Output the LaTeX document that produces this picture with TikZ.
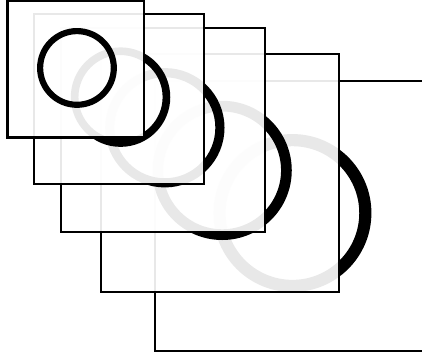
\documentclass[tikz,border=0pt]{standalone}
\begin{document}
\begin{tikzpicture}[x=1pt,y=-1pt,
  frame/.style={line width=2.5pt,draw=black},
  veil/.style={fill=white,fill opacity=0.91},
  ring/.style={draw=black}]
\useasboundingbox (0,0) rectangle (422,356);
\clip (0,0) rectangle (422,356);
\fill[white] (0,0) rectangle (422,356);
\foreach \x/\y/\s in {155/81/270, 101/54/238, 61/28/204, 34/14/170, 7.5/1.2/136.5} {
  \fill[veil] (\x,\y) rectangle ++(\s,\s);
  \draw[frame] (\x,\y) rectangle ++(\s,\s);
  \draw[ring,line width={0.045*\s}] ({\x+0.509*\s},{\y+0.489*\s}) circle[radius={0.27*\s}];
}
\end{tikzpicture}
\end{document}
